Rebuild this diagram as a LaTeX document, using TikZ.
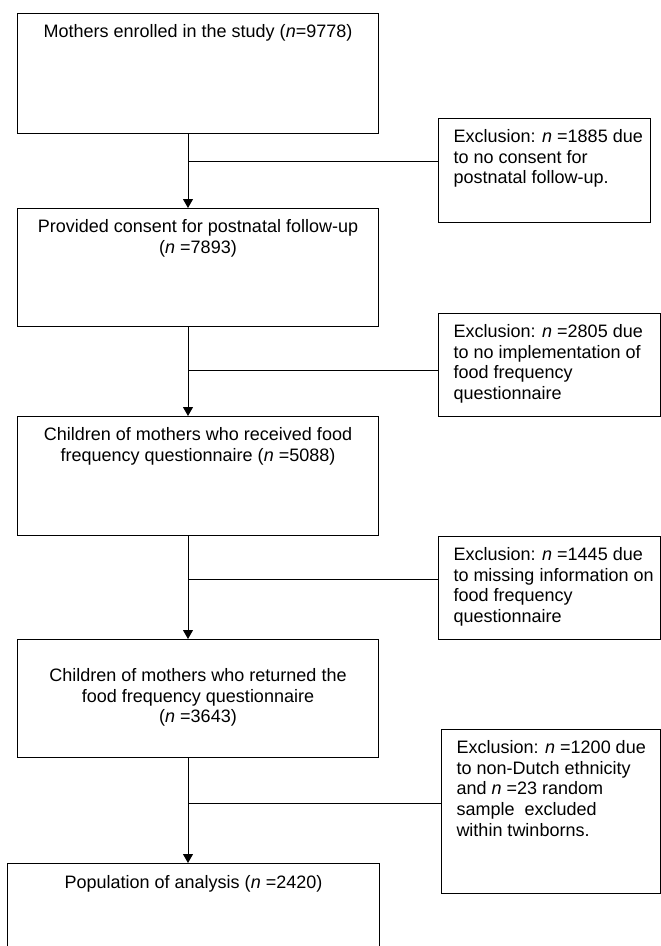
\documentclass[tikz,border=0pt]{standalone}
\usepackage{fontspec}
\setmainfont{Liberation Sans}
\usetikzlibrary{arrows.meta,positioning}

\begin{document}
\begin{tikzpicture}[
    x=1pt, y=-1pt,
    font=\fontsize{18}{20.7}\selectfont,
    line width=1pt,
    stagebox/.style={draw, anchor=north west, minimum width=361pt, inner sep=0pt},
    exclbox/.style={draw, anchor=north west, inner sep=0pt},
    stagetext/.style={anchor=north, align=center, inner sep=0pt, yshift=-11pt},
    excltext/.style={anchor=north west, align=left, inner sep=0pt, xshift=15pt, yshift=-11pt},
    arrow/.style={-{Triangle[length=9pt, width=10pt]}}
  ]
    \useasboundingbox (0,0) rectangle (661,946);
    \node[stagebox, minimum height=120pt,
      label={[stagetext]north:{Mothers enrolled in the study (\textit{n}=9778)}}] (mothers) at (17,13) {};
    \node[stagebox, minimum height=118pt,
      label={[stagetext]north:{Provided consent for postnatal follow-up\\(\textit{n} =7893)}}] (consent) at (17,208) {};
    \node[stagebox, minimum height=119pt,
      label={[stagetext]north:{Children of mothers who received food\\frequency questionnaire (\textit{n} =5088)}}] (received) at (17,416) {};
    \node[stagebox, minimum height=118pt,
      label={[stagetext, yshift=-18pt]north:{Children of mothers who returned the\\food frequency questionnaire\\(\textit{n} =3643)}}] (returned) at (17,639) {};
    \node[stagebox, minimum width=372pt, minimum height=120pt,
      label={[stagetext, yshift=-1pt]north:{Population of analysis (\textit{n} =2420)}}] (analysis) at (7,863) {};

    \node[exclbox, minimum width=212pt, minimum height=104pt,
      label={[excltext]north west:{Exclusion: \textit{n} =1885 due\\to no consent for\\postnatal follow-up.}}] (noconsent) at (438,118) {};
    \node[exclbox, minimum width=222pt, minimum height=103pt,
      label={[excltext]north west:{Exclusion: \textit{n} =2805 due\\to no implementation of\\food frequency\\questionnaire}}] (noffq) at (438,313) {};
    \node[exclbox, minimum width=222pt, minimum height=103pt,
      label={[excltext]north west:{Exclusion: \textit{n} =1445 due\\to missing information on\\food frequency\\questionnaire}}] (missing) at (438,536) {};
    \node[exclbox, minimum width=219pt, minimum height=164pt,
      label={[excltext]north west:{Exclusion: \textit{n} =1200 due\\to non-Dutch ethnicity\\and \textit{n} =23 random\\sample\ \ excluded\\within twinborns.}}] (dutch) at (441,729) {};

    \coordinate (spine) at (188,0);
    \coordinate (split1) at (188,161);
    \coordinate (split2) at (188,370);
    \coordinate (split3) at (188,579);
    \coordinate (split4) at (188,803);

    \draw[arrow] (mothers.south -| spine) -- (consent.north -| spine);
    \draw[arrow] (consent.south -| spine) -- (received.north -| spine);
    \draw[arrow] (received.south -| spine) -- (returned.north -| spine);
    \draw[arrow] (returned.south -| spine) -- (analysis.north -| spine);
    \draw (split1) -- (split1 -| noconsent.west);
    \draw (split2) -- (split2 -| noffq.west);
    \draw (split3) -- (split3 -| missing.west);
    \draw (split4) -- (split4 -| dutch.west);
  \end{tikzpicture}
\end{document}
